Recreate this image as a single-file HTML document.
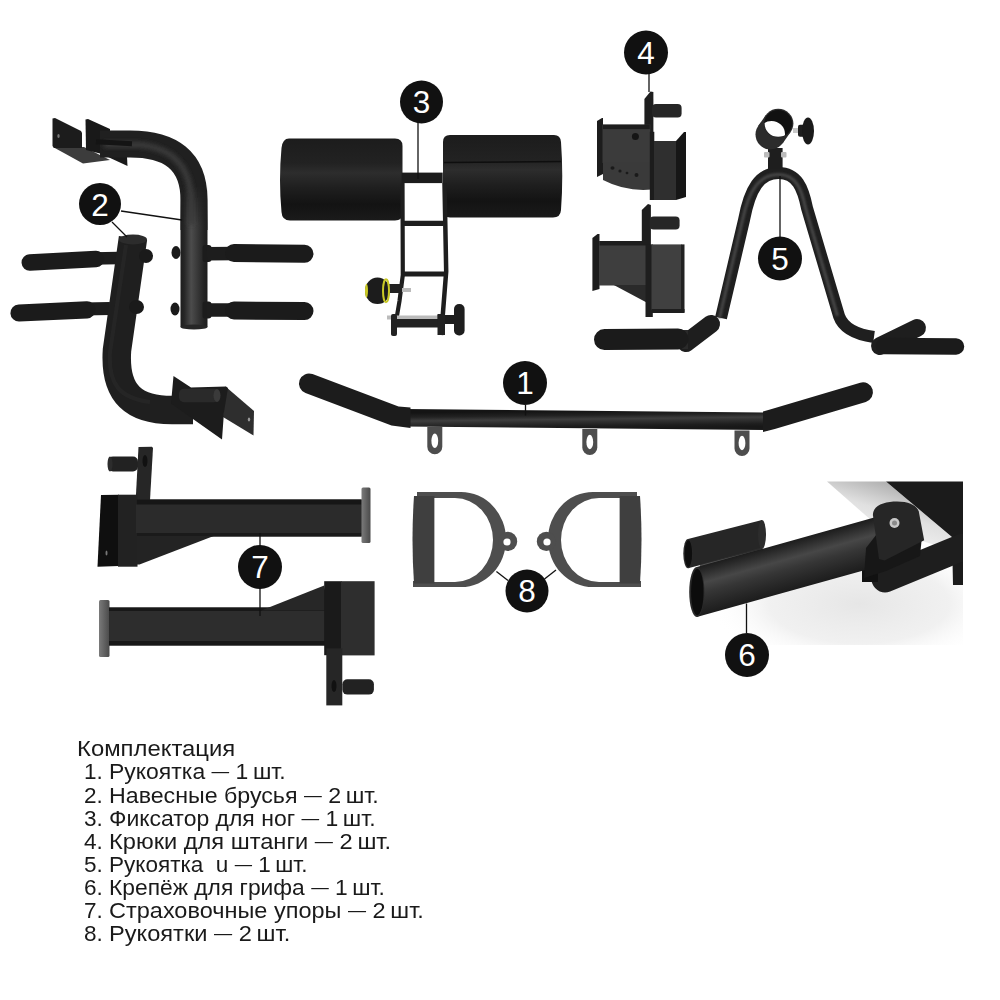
<!DOCTYPE html>
<html><head><meta charset="utf-8">
<style>
html,body{margin:0;padding:0;background:#fff;}
body{width:1000px;height:1000px;position:relative;overflow:hidden;font-family:"Liberation Sans",sans-serif;}
svg{position:absolute;left:0;top:0;}
.ln,.num{position:absolute;font-size:22.8px;line-height:25.47px;color:#1a1a1a;white-space:pre;transform-origin:0 0;}
.d{font-size:17.5px;position:relative;top:-1.9px;}
.lab{font-family:"Liberation Sans",sans-serif;font-size:31.5px;fill:#fff;text-anchor:middle;}
</style></head>
<body>
<svg width="1000" height="1000" viewBox="0 0 1000 1000">
<defs>
<filter id="bl2" filterUnits="userSpaceOnUse" x="0" y="0" width="1000" height="1000"><feGaussianBlur stdDeviation="2"/></filter>
<filter id="bl1" filterUnits="userSpaceOnUse" x="0" y="0" width="1000" height="1000"><feGaussianBlur stdDeviation="1"/></filter>
<linearGradient id="g2av" gradientUnits="userSpaceOnUse" x1="180" y1="0" x2="208" y2="0">
<stop offset="0" stop-color="#1c1c1c"/><stop offset="0.15" stop-color="#262626"/><stop offset="0.4" stop-color="#4c4c4c"/><stop offset="0.6" stop-color="#3a3a3a"/><stop offset="0.85" stop-color="#242424"/><stop offset="1" stop-color="#1c1c1c"/>
</linearGradient>
<linearGradient id="g6t" gradientUnits="userSpaceOnUse" x1="780" y1="543.6" x2="793" y2="590.4">
<stop offset="0" stop-color="#1c1c1c"/><stop offset="0.12" stop-color="#2a2a2a"/><stop offset="0.35" stop-color="#474747"/><stop offset="0.55" stop-color="#363636"/><stop offset="0.8" stop-color="#272727"/><stop offset="1" stop-color="#1c1c1c"/>
</linearGradient>
<linearGradient id="g1b" gradientUnits="userSpaceOnUse" x1="586.4" y1="410.85" x2="586.6" y2="428.35">
<stop offset="0" stop-color="#141414"/><stop offset="0.25" stop-color="#222"/><stop offset="0.47" stop-color="#3e3e3e"/><stop offset="0.62" stop-color="#303030"/><stop offset="0.85" stop-color="#1e1e1e"/><stop offset="1" stop-color="#181818"/>
</linearGradient>
<linearGradient id="padG" x1="0" y1="0" x2="0" y2="1">
<stop offset="0" stop-color="#1c1c1c"/><stop offset="0.3" stop-color="#222"/><stop offset="0.42" stop-color="#2d2d2d"/><stop offset="0.6" stop-color="#1f1f1f"/><stop offset="0.8" stop-color="#131313"/><stop offset="1" stop-color="#1a1a1a"/>
</linearGradient>
<linearGradient id="plateG" x1="0" y1="0" x2="1" y2="0">
<stop offset="0" stop-color="#7a7a7a"/><stop offset="1" stop-color="#4a4a4a"/>
</linearGradient>
<linearGradient id="plateG2" x1="0" y1="0" x2="1" y2="0">
<stop offset="0" stop-color="#4a4a4a"/><stop offset="1" stop-color="#7a7a7a"/>
</linearGradient>
<radialGradient id="floor6" cx="0.62" cy="0.45" r="0.55" fx="0.62" fy="0.45" gradientTransform="translate(0.62 0.45) scale(1 1.6) translate(-0.62 -0.45)">
<stop offset="0" stop-color="#e6e6e6" stop-opacity="1"/><stop offset="0.6" stop-color="#ededed" stop-opacity="0.8"/><stop offset="1" stop-color="#fff" stop-opacity="0"/>
</radialGradient>
<linearGradient id="m2ag" gradientUnits="userSpaceOnUse" x1="0" y1="185" x2="0" y2="225"><stop offset="0" stop-color="#fff" stop-opacity="0"/><stop offset="1" stop-color="#fff" stop-opacity="1"/></linearGradient>
<mask id="m2a" maskUnits="userSpaceOnUse" x="0" y="0" width="1000" height="1000"><rect x="170" y="170" width="50" height="170" fill="url(#m2ag)"/></mask>
<clipPath id="clipRing"><ellipse cx="778.2" cy="123.6" rx="13.6" ry="13.2"/></clipPath>
<clipPath id="clip6"><rect x="600" y="470" width="363" height="200"/></clipPath>
<linearGradient id="band6" x1="0" y1="1" x2="0.6" y2="0">
<stop offset="0" stop-color="#ffffff"/><stop offset="0.6" stop-color="#e0e0e0"/><stop offset="1" stop-color="#a8a8a8"/>
</linearGradient>
<linearGradient id="vpipe" x1="0" y1="0" x2="1" y2="0">
<stop offset="0" stop-color="#161616"/><stop offset="0.35" stop-color="#2a2a2a"/><stop offset="0.7" stop-color="#1e1e1e"/><stop offset="1" stop-color="#141414"/>
</linearGradient>
<linearGradient id="tube6" x1="0" y1="0" x2="0" y2="1">
<stop offset="0" stop-color="#1c1c1c"/><stop offset="0.4" stop-color="#2a2a2a"/><stop offset="1" stop-color="#141414"/>
</linearGradient>
</defs>

<!-- ===== ITEM 2A (upper right piece) ===== -->
<g id="i2a">
<polygon points="53,147 84,147 110,160 83,163.5" fill="#3c3c3c"/>
<polygon points="52.5,118.5 55,118 81,131 82,133 82,148 54,148 52.5,146" fill="#1c1c1c"/>
<ellipse cx="58.5" cy="136" rx="1.2" ry="2" fill="#777"/>
<polygon points="85.5,119.5 88,119 110,129 110,156 86,150" fill="#191919"/>
<polygon points="108,157 127,157 127.5,166" fill="#1a1a1a"/>
<path d="M100 144 L130 144 C170 144 194 160 194 200 L194 230" stroke="#202020" stroke-width="27" fill="none"/>
<rect x="180.5" y="180" width="27" height="147" fill="url(#g2av)" mask="url(#m2a)"/>
<path d="M104 144.5 L130 144.5 C166 144.5 190 161 191 200 L191 225" stroke="#3a3a3a" stroke-width="6" fill="none" filter="url(#bl2)"/>
<rect x="96" y="140" width="36" height="5" fill="#141414" transform="rotate(3 110 142)"/>
<ellipse cx="176" cy="252.5" rx="4.5" ry="6.5" fill="#1a1a1a"/>
<ellipse cx="175" cy="309" rx="4.5" ry="6.5" fill="#1a1a1a"/>
<rect x="202.5" y="245" width="9" height="17" rx="3" fill="#1c1c1c"/>
<rect x="202.5" y="301.5" width="9" height="17" rx="3" fill="#1c1c1c"/>
<line x1="207" y1="253.8" x2="236" y2="253.5" stroke="#1d1d1d" stroke-width="13.5"/>
<line x1="234" y1="253" x2="304.5" y2="253.7" stroke="#1b1b1b" stroke-width="18" stroke-linecap="round"/>
<line x1="207" y1="310" x2="236" y2="310" stroke="#1d1d1d" stroke-width="13.5"/>
<line x1="234" y1="310.5" x2="304.5" y2="311" stroke="#1b1b1b" stroke-width="18" stroke-linecap="round"/>
<ellipse cx="194" cy="327" rx="13.5" ry="2.5" fill="#262626"/>
</g>

<!-- ===== ITEM 2B (lower left piece) ===== -->
<g id="i2b">
<line x1="92" y1="258.5" x2="119" y2="258" stroke="#1d1d1d" stroke-width="12.5"/>
<line x1="29.8" y1="262.6" x2="96" y2="259" stroke="#1b1b1b" stroke-width="16.5" stroke-linecap="round"/>
<line x1="83" y1="309" x2="110" y2="308.5" stroke="#1d1d1d" stroke-width="13"/>
<line x1="19" y1="313" x2="87" y2="309.8" stroke="#1b1b1b" stroke-width="17.2" stroke-linecap="round"/>
<path d="M133 238 L117 350 C114 395 135 410 172 410 L193 410" stroke="#1f1f1f" stroke-width="28.5" fill="none"/>
<path d="M126 245 L110 352 C108 385 120 398 150 402" stroke="#2a2a2a" stroke-width="4" fill="none" opacity="0.6"/>
<ellipse cx="133" cy="239.5" rx="14" ry="5" fill="#2c2c2c"/>
<ellipse cx="146" cy="256" rx="7" ry="7" fill="#1a1a1a"/>
<ellipse cx="136.5" cy="307" rx="7.5" ry="7" fill="#1a1a1a"/>
<polygon points="225.5,386.5 254,411 253.5,435.5 223,417" fill="#2e2e2e"/>
<polygon points="173.5,376 191,387.5 226,386.5 228,388 224,412 222,439.5 171,403.5" fill="#1c1c1c"/>
<rect x="179" y="388.8" width="40" height="13.5" rx="5" fill="#2a2a2a"/>
<ellipse cx="217" cy="395.5" rx="3.5" ry="6.5" fill="#3a3a3a"/>
<ellipse cx="249" cy="419.5" rx="1.2" ry="2" fill="#999"/>
</g>

<!-- ===== ITEM 3 ===== -->
<g id="i3">
<path d="M289 138.5 L395 138.5 Q402.5 138.5 402.5 146 L402.5 213 Q402.5 220.5 395 220.5 L290 220.5 Q282 220.5 281.5 212 Q278.5 180 281.5 148 Q282.5 138.5 289 138.5 Z" fill="url(#padG)"/>
<path d="M450 135 L554 135 Q560.5 135 561 142 Q563.5 176 561 210 Q560.5 217.5 553 217.5 L450 217.5 Q443 217.5 443 210 L443 142 Q443 135 450 135 Z" fill="url(#padG)"/>
<line x1="444" y1="162.5" x2="561" y2="161.5" stroke="#0e0e0e" stroke-width="1.5"/>
<rect x="401.6" y="172.6" width="41.1" height="10.5" fill="#1c1c1c"/>
<polyline points="402.5,183 402.8,275 399.5,301 393.7,335" stroke="#1e1e1e" stroke-width="4.2" fill="none"/>
<polyline points="444.5,183 446.2,271.5 441.8,327.5 441,335" stroke="#1e1e1e" stroke-width="4.5" fill="none"/>
<line x1="403" y1="223.3" x2="443.5" y2="223.3" stroke="#1e1e1e" stroke-width="5.3"/>
<line x1="404" y1="274" x2="445" y2="274" stroke="#1e1e1e" stroke-width="5"/>
<rect x="389" y="284" width="13" height="9" fill="#222"/>
<rect x="402" y="288" width="9" height="4" fill="#bbb"/>
<ellipse cx="377.5" cy="290.8" rx="12.5" ry="13.2" fill="#1c1c1c"/>
<ellipse cx="386" cy="290.8" rx="3" ry="11.5" fill="none" stroke="#c9c926" stroke-width="2"/>
<ellipse cx="366.5" cy="290.8" rx="1.5" ry="7" fill="#c9c926"/>
<rect x="387" y="315.5" width="50" height="4" fill="#bbb"/>
<rect x="392" y="319" width="47" height="8.5" fill="#222"/>
<rect x="391" y="314" width="6" height="22" rx="2" fill="#222"/>
<rect x="437.5" y="315" width="17.5" height="9" fill="#1e1e1e"/>
<rect x="437.5" y="314" width="7.5" height="21" fill="#222"/>
<rect x="454" y="304" width="10.6" height="31.4" rx="5" fill="#1e1e1e"/>
</g>

<!-- ===== ITEM 4 ===== -->
<g id="i4">
<!-- hook 1 -->
<polygon points="644.4,99 650.5,91.6 653.4,92 653.4,163 644.4,163" fill="#1e1e1e"/>
<rect x="652" y="104" width="29.6" height="13.4" rx="4" fill="#262626"/>
<polygon points="597,121 602,118 603,118 603,174 597,177" fill="#1c1c1c"/>
<rect x="602.5" y="124.6" width="47.8" height="38.4" fill="#3b3b3b"/>
<rect x="603" y="124.6" width="46.8" height="4.5" fill="#1e1e1e"/>
<circle cx="635.4" cy="136.6" r="3.5" fill="#151515"/>
<path d="M603 162 L652 162 L652 189.5 Q626 192 603 180 Z" fill="#3a3a3a"/>
<ellipse cx="612.5" cy="168" rx="2" ry="1.8" fill="#1a1a1a"/>
<ellipse cx="620" cy="171" rx="1.6" ry="1.5" fill="#1a1a1a"/>
<ellipse cx="627" cy="173" rx="1.4" ry="1.3" fill="#1a1a1a"/>
<ellipse cx="636.5" cy="175" rx="2" ry="2" fill="#1a1a1a"/>
<rect x="649.8" y="131.8" width="4.5" height="68.2" fill="#1c1c1c"/>
<rect x="654" y="141" width="22" height="59" fill="#2f2f2f"/>
<polygon points="676,141 684,132 686,132 686,197 676,200" fill="#161616"/>
<!-- hook 2 -->
<polygon points="641.8,210 648,204 650.9,205 650.9,247 641.8,247" fill="#1e1e1e"/>
<rect x="649.6" y="216.5" width="30" height="13" rx="4" fill="#262626"/>
<polygon points="592.4,238 597.5,234 599.5,234 599.5,289 592.4,291" fill="#1c1c1c"/>
<rect x="599" y="241" width="47" height="44.5" fill="#3e3e3e"/>
<rect x="599.5" y="241" width="48" height="4.5" fill="#1e1e1e"/>
<polygon points="613.8,285 647.6,285 647.6,303" fill="#2a2a2a"/>
<rect x="645.5" y="244.4" width="7.3" height="72.6" fill="#1e1e1e"/>
<rect x="651.5" y="244.4" width="30" height="66" fill="#404040"/>
<rect x="681" y="244.4" width="3.5" height="68" fill="#222"/>
<rect x="651.5" y="309" width="33" height="4" fill="#1e1e1e"/>
</g>

<!-- ===== ITEM 5 ===== -->
<g id="i5">
<path d="M721 318 L744 220 C750 188 760 173 778.5 173 C797 173 803 188 807 208 L839 316 Q845 333 874 337" stroke="#1f1f1f" stroke-width="12" fill="none"/>
<path d="M719.5 318 L742.5 220 C749 189 760 174.5 778.5 174.5 C796 174.5 801.5 189 805.5 208 L837.5 316" stroke="#474747" stroke-width="3" fill="none" filter="url(#bl1)"/>
<rect x="768" y="148" width="14.6" height="21" fill="#1e1e1e"/>
<rect x="764" y="152" width="5.5" height="5.6" rx="1" fill="#bbb"/>
<rect x="781" y="152" width="5.5" height="5.6" rx="1" fill="#bbb"/>
<circle cx="770.5" cy="134.5" r="15" fill="#2c2c2c"/>
<line x1="770.5" y1="134.5" x2="778.2" y2="123.6" stroke="#2c2c2c" stroke-width="30"/>
<ellipse cx="778.2" cy="123.6" rx="15.2" ry="14.8" fill="#2c2c2c"/>
<ellipse cx="778.2" cy="123.6" rx="14" ry="13.6" fill="#111"/>
<ellipse cx="771.5" cy="134" rx="13.5" ry="13" fill="#fff" clip-path="url(#clipRing)"/>
<rect x="793" y="128" width="6" height="5" fill="#c8c8c8"/>
<rect x="798" y="124.8" width="8" height="12" rx="2" fill="#1e1e1e"/>
<ellipse cx="808" cy="131" rx="6" ry="13.4" fill="#1a1a1a"/>
<line x1="686" y1="343" x2="711" y2="324" stroke="#1e1e1e" stroke-width="18" stroke-linecap="round"/>
<rect x="676" y="330" width="12" height="19" fill="#2a2a2a"/>
<line x1="604.5" y1="339.5" x2="678" y2="339" stroke="#1b1b1b" stroke-width="21" stroke-linecap="round"/>
<line x1="880" y1="346" x2="917" y2="328" stroke="#1e1e1e" stroke-width="18" stroke-linecap="round"/>
<line x1="884" y1="346" x2="956" y2="346.5" stroke="#1b1b1b" stroke-width="16.5" stroke-linecap="round"/>
</g>

<!-- ===== ITEM 1 ===== -->
<g id="i1">
<g fill="#4d4d4d">
<path d="M427.3 427 L442.3 427 L442.3 446.7 A7.5 7.5 0 0 1 427.3 446.7 Z"/>
<path d="M582.3 429 L597.3 429 L597.3 447.5 A7.5 7.5 0 0 1 582.3 447.5 Z"/>
<path d="M734.5 430.5 L749.5 430.5 L749.5 448.5 A7.5 7.5 0 0 1 734.5 448.5 Z"/>
</g>
<g fill="#fff">
<ellipse cx="434.8" cy="440.8" rx="3.4" ry="7.2"/>
<ellipse cx="589.8" cy="442" rx="3.4" ry="7.2"/>
<ellipse cx="742" cy="443" rx="3.4" ry="7.2"/>
</g>
<line x1="405" y1="417.8" x2="768" y2="421.4" stroke="url(#g1b)" stroke-width="17.5"/>
<path d="M410.5 407.5 L398.5 406.6 L312.5 374.1 A10 10 0 0 0 305.5 392.9 L391.5 425.4 L410.5 428 Z" fill="#1c1c1c"/>
<path d="M763 411.5 L769.2 409.7 L860.2 382.7 A10 10 0 0 1 865.8 401.9 L774.8 428.9 L763 432 Z" fill="#1c1c1c"/>
</g>

<!-- ===== ITEM 7 ===== -->
<g id="i7">
<rect x="108" y="456.5" width="30" height="15" rx="5" fill="#222"/>
<ellipse cx="110" cy="464" rx="2.5" ry="7.5" fill="#2c2c2c"/>
<polygon points="138.5,447 152,446.7 153,448 150,500 135.7,500" fill="#262626"/>
<ellipse cx="145" cy="461" rx="2.5" ry="6" fill="#111"/>
<polygon points="97.5,566.7 101,495 119,494.7 119,566" fill="#0f0f0f"/>
<rect x="118" y="494.7" width="19.5" height="72" fill="#222"/>
<ellipse cx="106.5" cy="553" rx="1" ry="2.5" fill="#777"/>
<rect x="136" y="499.5" width="226" height="37" fill="#2b2b2b"/>
<rect x="136.5" y="499.5" width="225" height="5" fill="#161616"/>
<rect x="136.5" y="533" width="225" height="3.5" fill="#1a1a1a"/>
<polygon points="136.5,536 213.7,536 139.5,564.5 136.5,564.5" fill="#232323"/>
<rect x="361.5" y="487.5" width="9" height="55.5" rx="1.5" fill="url(#plateG)"/>
<rect x="99" y="600" width="10.5" height="57" rx="1.5" fill="url(#plateG)"/>
<rect x="109" y="607.5" width="216" height="38" fill="#2d2d2d"/>
<rect x="109" y="607.5" width="216" height="3.5" fill="#181818"/>
<rect x="109" y="641" width="216" height="4.5" fill="#181818"/>
<polygon points="261.2,610.6 324.2,585.4 328.4,610.6" fill="#272727"/>
<rect x="324.2" y="581.2" width="17.5" height="74" fill="#1a1a1a"/>
<rect x="341" y="581.2" width="33.6" height="74.2" fill="#2e2e2e"/>
<rect x="326.3" y="648.4" width="16" height="57" fill="#262626"/>
<ellipse cx="334" cy="686" rx="2.5" ry="6" fill="#111"/>
<rect x="342.4" y="679.2" width="31.5" height="15.4" rx="5" fill="#222"/>
</g>

<!-- ===== ITEM 8 ===== -->
<g id="i8">
<path fill-rule="evenodd" fill="#4e4e4e" d="M417 492 L461 492 A45 47.5 0 0 1 461 587 L413 587 L413 581 L417 581 Z M434 498 L455 498 A38 42 0 0 1 455 582 L434 582 Z"/>
<circle cx="507.6" cy="541.4" r="9.6" fill="#4e4e4e"/>
<circle cx="507" cy="542" r="3.6" fill="#fff"/>
<path d="M414 496 L434.4 496 L434.4 583.4 L414 583.4 Q411 540 414 496 Z" fill="#3f3f3f"/>
<path fill-rule="evenodd" fill="#4e4e4e" d="M637 492 L593 492 A45 47.5 0 0 0 593 587 L641 587 L641 581 L637 581 Z M620 498 L599 498 A38 42 0 0 0 599 582 L620 582 Z"/>
<circle cx="546.4" cy="541.4" r="9.6" fill="#4e4e4e"/>
<circle cx="547" cy="542" r="3.6" fill="#fff"/>
<path d="M640 496 L619.6 496 L619.6 583.4 L640 583.4 Q643 540 640 496 Z" fill="#3f3f3f"/>
</g>

<!-- ===== ITEM 6 ===== -->
<g id="i6" clip-path="url(#clip6)">
<rect x="690" y="570" width="273" height="75" fill="url(#floor6)"/>
<polygon points="827,481.5 886,481.5 952,537 935,545 880,528" fill="url(#band6)"/>
<polygon points="886,481.5 963,481.5 963,585 953,585 952,537" fill="#1b1b1b"/>
<line x1="885" y1="579" x2="963" y2="547" stroke="#1e1e1e" stroke-width="27" stroke-linecap="round"/>
<rect x="862" y="566" width="16" height="16" fill="#111"/>
<polygon points="688,539 762,520 762,549 688,568.2" fill="#262626"/>
<ellipse cx="762" cy="534.5" rx="4" ry="14.5" fill="#2c2c2c"/>
<line x1="700" y1="566" x2="762" y2="549" stroke="#2e2e2e" stroke-width="3" opacity="0.8"/>
<ellipse cx="688" cy="553.6" rx="4.7" ry="14.6" fill="#2a2a2a"/>
<ellipse cx="688.4" cy="553.6" rx="3.7" ry="13.4" fill="#0e0e0e"/>
<polygon points="696.8,567.1 876,517.1 876,566.9 696.8,616.9" fill="url(#g6t)"/>
<polygon points="866,548 880,530 922,536 920,556 886,571 864,578" fill="#171717"/>
<ellipse cx="696.8" cy="592" rx="7.6" ry="24.9" fill="#2a2a2a"/>
<ellipse cx="697.3" cy="592" rx="6.2" ry="23.3" fill="#0c0c0c"/>
<path d="M879 559 L872.9 515 C872.9 505 885 501.5 897 501.5 C909 501.5 916 505 918.8 511.4 L924.2 540.2 L884.6 560.5 Z" fill="#262626"/>
<circle cx="894.5" cy="523" r="5" fill="#c8c8c8"/>
<circle cx="894.5" cy="523" r="2.5" fill="#8a8a8a"/>
</g>

<!-- ===== LABELS ===== -->
<g id="lines" stroke="#111" stroke-width="1.3">
<line x1="121" y1="211" x2="182" y2="220"/>
<line x1="112" y1="222" x2="127" y2="237"/>
<line x1="418" y1="123" x2="418" y2="179"/>
<line x1="649" y1="74" x2="649" y2="92"/>
<line x1="780" y1="176" x2="780" y2="237"/>
<line x1="525.5" y1="405" x2="525.5" y2="415.5"/>
<line x1="746.5" y1="603.5" x2="746.5" y2="633"/>
<line x1="260" y1="533" x2="260" y2="546"/>
<line x1="260" y1="588" x2="260" y2="616"/>
<line x1="496.4" y1="571.4" x2="508" y2="580.5"/>
<line x1="556" y1="570" x2="544.5" y2="579"/>
</g>
<g fill="#111">
<circle cx="525" cy="383" r="22"/>
<circle cx="100" cy="204" r="21"/>
<circle cx="421.5" cy="102" r="21.5"/>
<circle cx="646" cy="52.5" r="22"/>
<circle cx="780" cy="258.5" r="22"/>
<circle cx="747" cy="655" r="22"/>
<circle cx="260" cy="567" r="22"/>
<circle cx="527" cy="591" r="21.5"/>
</g>
<g class="lab">
<text x="525" y="394.3">1</text>
<text x="100" y="215.8">2</text>
<text x="421.5" y="113.3">3</text>
<text x="646" y="63.8">4</text>
<text x="780" y="269.8">5</text>
<text x="747" y="666.3">6</text>
<text x="260" y="578.3">7</text>
<text x="527" y="602.3">8</text>
</g>
</svg>

<div class="ln" style="left:76.50px;top:736.27px;transform:scaleX(1.0469)">Комплектация</div>
<div class="num" style="left:83.50px;top:759.39px;transform:scaleX(0.9900)">1.</div>
<div class="ln" style="left:109.00px;top:759.39px;transform:scaleX(1.0073)">Рукоятка <span class=d>—</span> 1 шт.</div>
<div class="num" style="left:83.50px;top:782.51px;transform:scaleX(0.9900)">2.</div>
<div class="ln" style="left:109.00px;top:782.51px;transform:scaleX(1.0171)">Навесные брусья <span class=d>—</span> 2 шт.</div>
<div class="num" style="left:83.50px;top:805.63px;transform:scaleX(0.9900)">3.</div>
<div class="ln" style="left:109.00px;top:805.63px;transform:scaleX(1.0077)">Фиксатор для ног <span class=d>—</span> 1 шт.</div>
<div class="num" style="left:83.50px;top:828.75px;transform:scaleX(0.9900)">4.</div>
<div class="ln" style="left:109.00px;top:828.75px;transform:scaleX(1.0368)">Крюки для штанги <span class=d>—</span> 2 шт.</div>
<div class="num" style="left:83.50px;top:851.87px;transform:scaleX(0.9900)">5.</div>
<div class="ln" style="left:109.00px;top:851.87px;transform:scaleX(0.9883)">Рукоятка  u <span class=d>—</span> 1 шт.</div>
<div class="num" style="left:83.50px;top:874.99px;transform:scaleX(0.9900)">6.</div>
<div class="ln" style="left:109.00px;top:874.99px;transform:scaleX(1.0006)">Крепёж для грифа <span class=d>—</span> 1 шт.</div>
<div class="num" style="left:83.50px;top:898.11px;transform:scaleX(0.9900)">7.</div>
<div class="ln" style="left:109.00px;top:898.11px;transform:scaleX(1.0309)">Страховочные упоры <span class=d>—</span> 2 шт.</div>
<div class="num" style="left:83.50px;top:921.23px;transform:scaleX(0.9900)">8.</div>
<div class="ln" style="left:109.00px;top:921.23px;transform:scaleX(1.0359)">Рукоятки <span class=d>—</span> 2 шт.</div>

</body></html>
